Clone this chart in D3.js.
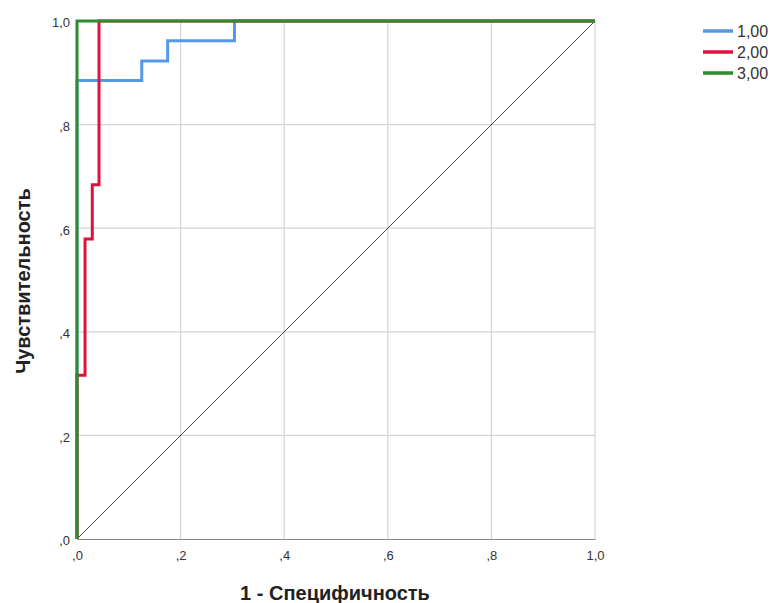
<!DOCTYPE html>
<html><head><meta charset="utf-8">
<script src="https://cdn.jsdelivr.net/npm/d3@7"></script>
<style>body{margin:0;background:#fff}svg{display:block}</style>
</head><body>
<script>
const ticks = [0, 0.2, 0.4, 0.6, 0.8, 1.0];
const tickLabels = [",0", ",2", ",4", ",6", ",8", "1,0"];
const seriesNames = ["1,00", "2,00", "3,00"];
const seriesColors = ["#5599e6", "#dc143c", "#2e8b2e"];
const curve1 = [[0,0],[0,0.885],[0.125,0.885],[0.125,0.923],[0.175,0.923],[0.175,0.962],[0.304,0.962],[0.304,1],[1,1]];
const curve2 = [[0,0],[0,0.316],[0.0155,0.316],[0.0155,0.579],[0.0295,0.579],[0.0295,0.684],[0.0425,0.684],[0.0425,1],[1,1]];
const curve3 = [[0,0],[0,1],[1,1]];
const diagonal = [[0,0],[1,1]];
const xTitle = "1 - Специфичность";
const yTitle = "Чувствительность";

const W = 771, H = 603;
const m = {left: 77, top: 21, right: 595, bottom: 539};
const svg = d3.select("body").append("svg").attr("width", W).attr("height", H);
const x = d3.scaleLinear().domain([0,1]).range([m.left, m.right]);
const y = d3.scaleLinear().domain([0,1]).range([m.bottom, m.top]);
const font = "'Liberation Sans', Arial, sans-serif";

// grid
const g = svg.append("g");
g.selectAll(".vx").data(ticks.slice(1)).join("line")
  .attr("x1", d => x(d)).attr("x2", d => x(d)).attr("y1", y(0)).attr("y2", y(1))
  .attr("stroke", "#d4d4d4").attr("stroke-width", 1.2);
g.selectAll(".hy").data(ticks.slice(1)).join("line")
  .attr("y1", d => y(d)).attr("y2", d => y(d)).attr("x1", x(0)).attr("x2", x(1))
  .attr("stroke", "#d4d4d4").attr("stroke-width", 1.2);

// axes
const xAxis = d3.axisBottom(x).tickValues(ticks).tickFormat((d,i) => tickLabels[i]).tickSize(0).tickPadding(12);
const yAxis = d3.axisLeft(y).tickValues(ticks).tickFormat((d,i) => tickLabels[i]).tickSize(0).tickPadding(7);
const gx = svg.append("g").attr("transform", `translate(0,${m.bottom})`).call(xAxis);
const gy = svg.append("g").attr("transform", `translate(${m.left},0)`).call(yAxis);
[gx, gy].forEach(a => {
  a.select(".domain").attr("stroke", "#8a8a8a").attr("stroke-width", 1.2);
  a.selectAll("text").attr("font-family", font).attr("font-size", 13).attr("fill", "#333");
});
gy.selectAll("text").attr("dy", "0.45em");

const line = d3.line().x(d => x(d[0])).y(d => y(d[1]));
svg.append("path").datum(diagonal).attr("d", line).attr("fill", "none").attr("stroke", "#444").attr("stroke-width", 1);
[curve1, curve2, curve3].forEach((c, i) => {
  svg.append("path").datum(c).attr("d", line).attr("fill", "none")
    .attr("stroke", seriesColors[i]).attr("stroke-width", 3);
});

// legend
const lg = svg.append("g");
seriesNames.forEach((n, i) => {
  const yy = 31 + i * 21;
  lg.append("line").attr("x1", 703).attr("x2", 733).attr("y1", yy).attr("y2", yy)
    .attr("stroke", seriesColors[i]).attr("stroke-width", 3.5);
  lg.append("text").attr("x", 737).attr("y", yy).attr("dy", "0.36em")
    .attr("font-family", font).attr("font-size", 16).attr("fill", "#333").text(n);
});

// titles
svg.append("text").attr("x", (m.left + m.right) / 2 - 1).attr("y", 600)
  .attr("text-anchor", "middle").attr("font-family", font).attr("font-weight", "bold")
  .attr("font-size", 20).attr("fill", "#222").text(xTitle);
svg.append("text").attr("transform", `translate(30,${(m.top + m.bottom) / 2 + 1}) rotate(-90)`)
  .attr("text-anchor", "middle").attr("font-family", font).attr("font-weight", "bold")
  .attr("font-size", 20).attr("fill", "#222").text(yTitle);
</script>
</body></html>
